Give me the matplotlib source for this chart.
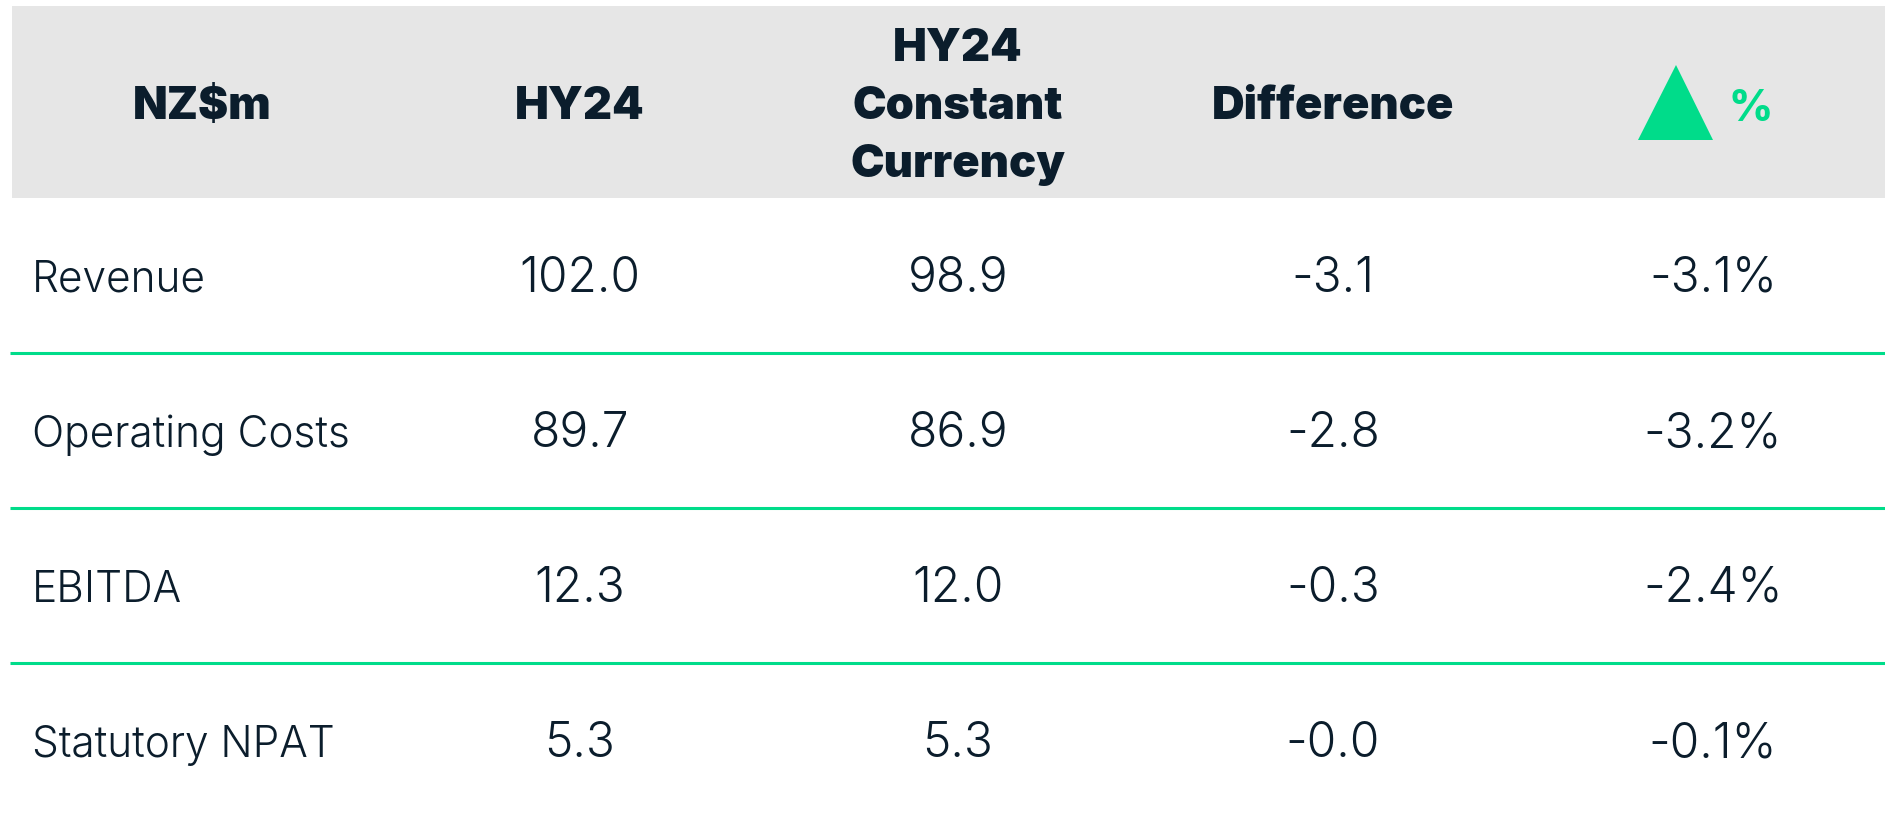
import matplotlib.pyplot as plt
from matplotlib.patches import Polygon, Rectangle

# table content
rows = ['Revenue', 'Operating Costs', 'EBITDA', 'Statutory NPAT']
hy24 = [102.0, 89.7, 12.3, 5.3]
constant = [98.9, 86.9, 12.0, 5.3]
difference = [-3.1, -2.8, -0.3, -0.0]
pct_change = [-3.1, -3.2, -2.4, -0.1]
headers = [['NZ$m'], ['HY24'], ['HY24', 'Constant', 'Currency'], ['Difference']]

navy = '#0b1d2c'
green = '#00dc8a'
grey = '#e6e6e6'

W, H = 1885, 816
fig = plt.figure(figsize=(W / 100, H / 100), dpi=100)
ax = fig.add_axes([0, 0, 1, 1])
ax.set_xlim(0, W)
ax.set_ylim(H, 0)
ax.axis('off')

col_x = [202, 580, 958, 1333, 1713]
label_x = 32
header_base = 119
header_step = 58
row_base = [292, 447, 602, 757]
line_y = [353, 508, 663]

# header band
ax.add_patch(Rectangle((12, 6), W - 12, 192, color=grey, lw=0))
for i, lines in enumerate(headers):
    n = len(lines)
    for k, txt in enumerate(lines):
        y = header_base + (k - (n - 1) / 2) * header_step
        ax.text(col_x[i], y, txt, ha='center', va='baseline', fontsize=32.5,
                family='Inter', weight=900, color=navy)

# triangle + % header
ax.add_patch(Polygon([(1638, 140), (1713, 140), (1676, 65)], closed=True,
                     color=green, lw=0))
ax.text(1751, header_base + 2, '%', ha='center', va='baseline', fontsize=31,
        family='Inter', weight=800, color=green)

# separators
for y in line_y:
    ax.plot([10, W], [y, y], color=green, lw=2.2, solid_capstyle='butt')

for i, name in enumerate(rows):
    y = row_base[i]
    ax.text(label_x, y, name, ha='left', va='baseline', fontsize=30.5,
            family='Inter', weight=300, color=navy)
    vals = [f'{hy24[i]:.1f}', f'{constant[i]:.1f}', f'{difference[i]:.1f}',
            f'{pct_change[i]:.1f}%']
    for j, v in enumerate(vals):
        ax.text(col_x[j + 1], y, v, ha='center', va='baseline', fontsize=34.5,
                family='Inter', weight=300, color=navy)

fig.savefig('out.png', dpi=100, facecolor='white')
